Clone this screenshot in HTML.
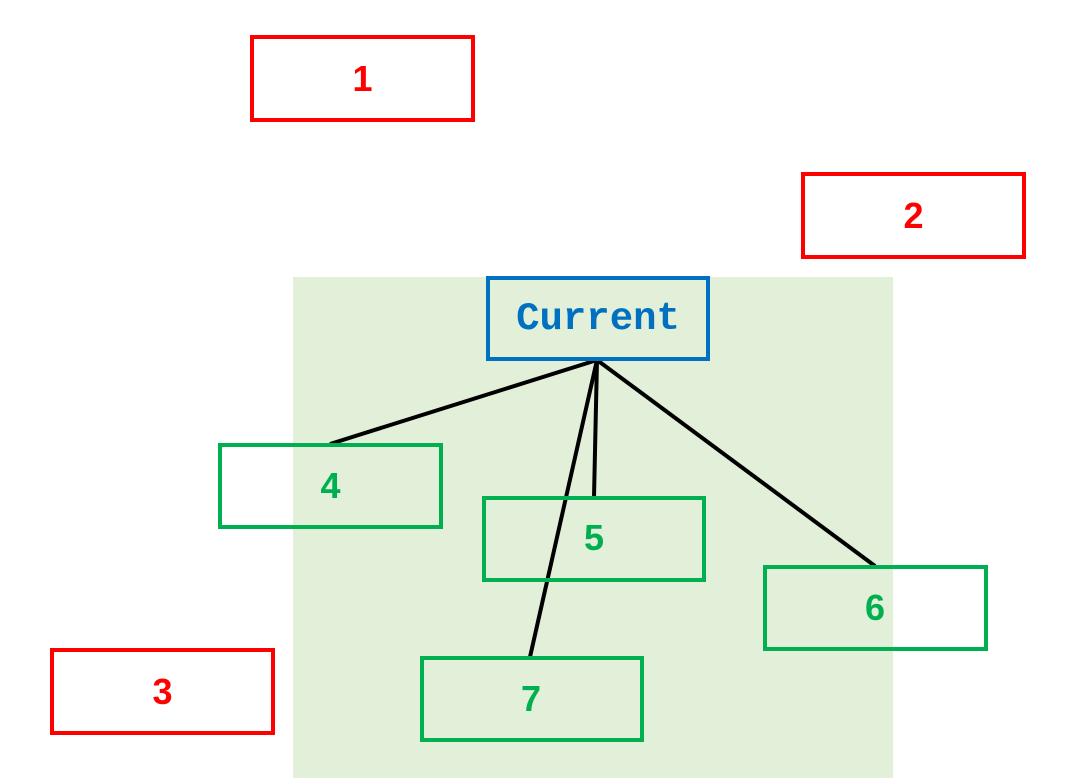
<!DOCTYPE html>
<html><head><meta charset="utf-8"><style>
body{margin:0;width:1085px;height:778px;background:#fff;position:relative;overflow:hidden;font-family:"Liberation Sans",sans-serif;}
.bg{position:absolute;left:293px;top:277px;width:600px;height:501px;background:#e2efd9;}
.b{position:absolute;box-sizing:border-box;border:4px solid;display:flex;align-items:center;justify-content:center;font-weight:bold;font-size:36px;background:transparent;}
.r{border-color:#ff0000;color:#ff0000;}
.g{border-color:#00b050;color:#00b050;}
.u{border-color:#0070c0;color:#0070c0;font-family:"Liberation Mono",monospace;font-size:39px;}
svg{position:absolute;left:0;top:0;}
</style></head><body>
<div class="bg"></div>
<svg width="1085" height="778"><g stroke="#000" stroke-width="4" fill="none">
<line x1="597" y1="360" x2="330" y2="444"/>
<line x1="597" y1="360" x2="594" y2="497"/>
<line x1="597" y1="360" x2="530" y2="657"/>
<line x1="597" y1="360" x2="875" y2="566"/>
</g></svg>
<div class="b r" style="left:250px;top:35px;width:225px;height:87px">1</div>
<div class="b r" style="left:801px;top:172px;width:225px;height:87px">2</div>
<div class="b r" style="left:50px;top:648px;width:225px;height:87px">3</div>
<div class="b u" style="left:486px;top:276px;width:224px;height:85px">Current</div>
<div class="b g" style="left:218px;top:443px;width:225px;height:86px">4</div>
<div class="b g" style="left:482px;top:496px;width:224px;height:86px;align-items:flex-start;padding-top:17px">5</div>
<div class="b g" style="left:763px;top:565px;width:225px;height:86px;justify-content:flex-start;padding-left:98px">6</div>
<div class="b g" style="left:420px;top:656px;width:224px;height:86px;justify-content:flex-start;padding-left:97px">7</div>
</body></html>
